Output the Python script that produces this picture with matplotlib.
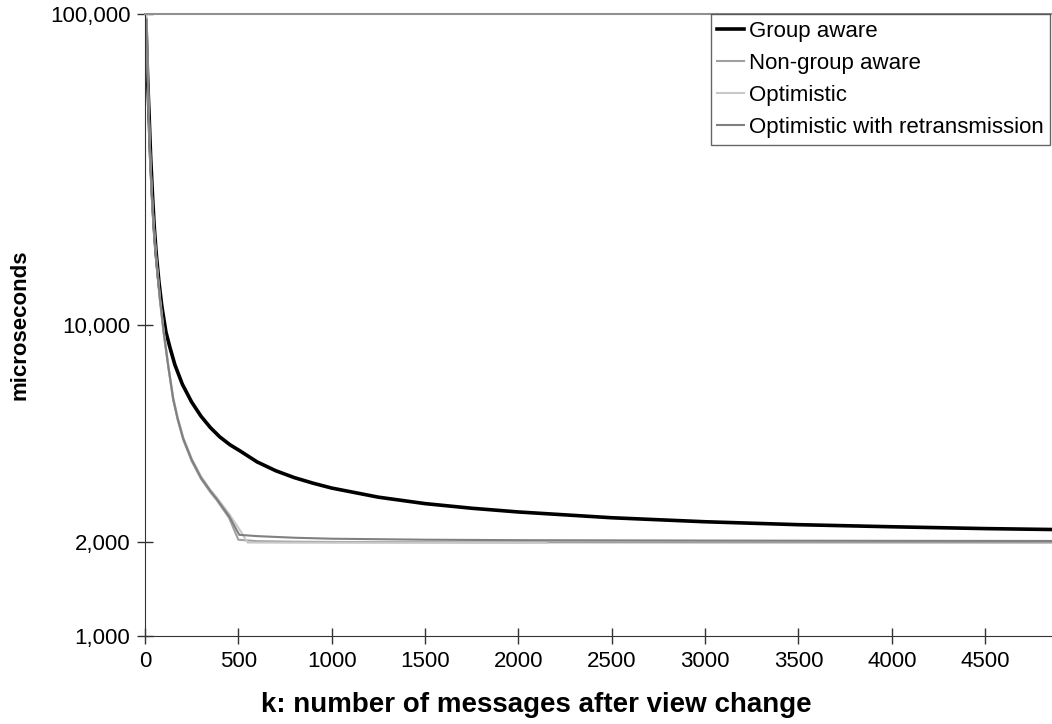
import matplotlib
matplotlib.use("Agg")
import matplotlib.pyplot as plt
from matplotlib.ticker import FixedLocator, NullLocator, FuncFormatter

# values
k_group = [5, 10, 15, 21, 30, 41, 50, 60, 75, 90, 112, 134, 160, 200, 250, 300,
           350, 400, 455, 508, 600, 700, 800, 900, 1000, 1250, 1500, 1750, 2000,
           2500, 3000, 3500, 4000, 4500, 4858]
group_aware = [95000, 75000, 60000, 49000, 35000, 25500, 20500, 17000, 13700,
               11500, 9500, 8450, 7450, 6450, 5650, 5090, 4680, 4370, 4120, 3940,
               3630, 3400, 3230, 3100, 2990, 2795, 2665, 2575, 2505, 2400, 2330,
               2280, 2245, 2215, 2200]

k_nga = [8, 15, 20, 30, 40, 50, 60, 80, 100, 125, 151, 175, 205, 250, 300, 350,
         384, 450, 500, 600, 800, 1000, 1500, 2000, 3000, 4000, 4858]
non_group_aware = [97000, 62000, 48000, 32000, 24000, 19500, 16300, 12000, 9400,
                   7300, 5740, 4950, 4270, 3650, 3200, 2900, 2736, 2400, 2040,
                   2018, 2010, 2006, 2003, 2001, 1999, 1998, 1997]

k_opt = [8, 15, 20, 30, 40, 50, 60, 80, 100, 125, 151, 175, 205, 250, 300, 350,
         384, 450, 500, 550, 750, 1000, 1500, 2150]
optimistic = [98000, 63000, 49000, 32500, 24500, 19800, 16600, 12300, 9600,
              7450, 5850, 5050, 4350, 3720, 3260, 2950, 2790, 2470, 2230, 1998,
              1996, 1995, 1994, 1994]

k_retr = [8, 15, 20, 30, 40, 50, 60, 80, 100, 125, 151, 175, 205, 250, 300, 350,
          384, 450, 505, 600, 800, 1000, 1500, 2000, 3000, 4000, 4858]
optimistic_retr = [96000, 62500, 48500, 32200, 24200, 19600, 16400, 12100, 9500,
                   7350, 5790, 5000, 4310, 3690, 3230, 2930, 2760, 2430, 2115,
                   2095, 2070, 2055, 2040, 2033, 2027, 2023, 2021]

y_ticks = [1000, 2000, 10000, 100000]
x_ticks = list(range(0, 5000, 500))

plt.rcParams['font.family'] = ['Liberation Sans', 'DejaVu Sans']

W, H = 1052, 724
fig = plt.figure(figsize=(W / 100, H / 100), dpi=100)
ax = fig.add_axes([145 / W, 1 - 636 / H, 907 / W, 622 / H])

ax.plot(k_group, group_aware, color='black', lw=2.6, label='Group aware')
ax.plot(k_nga, non_group_aware, color='#a0a0a0', lw=1.5, label='Non-group aware')
ax.plot(k_opt, optimistic, color='#c8c8c8', lw=1.5, label='Optimistic')
ax.plot(k_retr, optimistic_retr, color='#808080', lw=1.5,
        label='Optimistic with retransmission')

ax.set_yscale('log')
ax.set_ylim(1000, 100000)
ax.set_xlim(0, 4858)
ax.yaxis.set_major_locator(FixedLocator(y_ticks))
ax.yaxis.set_minor_locator(NullLocator())
ax.yaxis.set_major_formatter(FuncFormatter(lambda v, p: f"{int(round(v)):,}"))
ax.xaxis.set_major_locator(FixedLocator(x_ticks))

ax.tick_params(axis='both', which='major', direction='inout', length=11,
               width=1, color='#333333', labelsize=16, pad=5)

ax.spines['left'].set_color('#333333')
ax.spines['bottom'].set_color('#333333')
ax.spines['top'].set_color('#909090')
ax.spines['top'].set_linewidth(1.5)
ax.spines['right'].set_visible(False)

ax.set_xlabel('k: number of messages after view change', fontsize=20,
              fontweight='bold')
ax.xaxis.set_label_coords((536 - 145) / 907, -(692 - 636) / 622)
ax.set_ylabel('microseconds', fontsize=16, fontweight='bold', labelpad=14)

leg = ax.legend(loc='upper right', bbox_to_anchor=(1050 / W, 1 - 14 / H),
                bbox_transform=fig.transFigure, fontsize=16, frameon=True,
                fancybox=False, borderpad=0.3, handlelength=1.2,
                handletextpad=0.2, labelspacing=0.5, borderaxespad=0)
leg.get_frame().set_edgecolor('#404040')
leg.get_frame().set_linewidth(1)

fig.savefig('out.png', dpi=100)
